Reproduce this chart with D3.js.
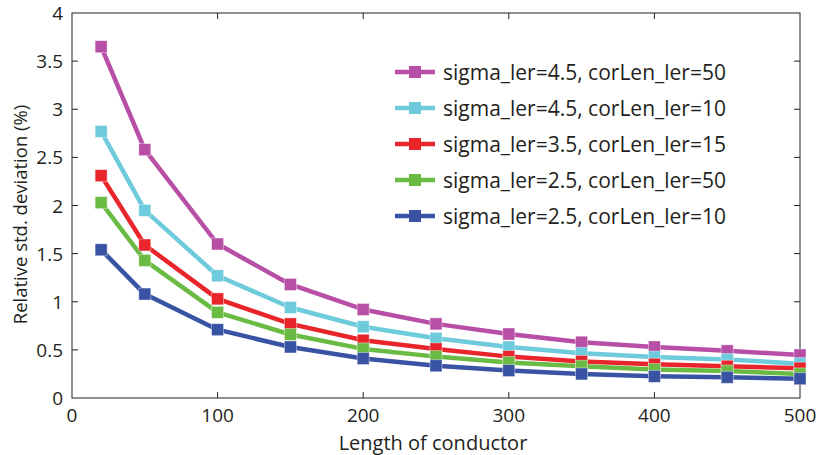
<!DOCTYPE html>
<html>
<head>
<meta charset="utf-8">
<script src="https://cdn.jsdelivr.net/npm/d3@7"></script>
<style>
  body { margin: 0; background: #fff; }
  text { font-family: "Open Sans", "Noto Sans", sans-serif; fill: #231f20; }
</style>
</head>
<body>
<div id="chart"></div>
<script>
// x positions (length of conductor)
const lengths = [20, 50, 100, 150, 200, 250, 300, 350, 400, 450, 500];

// series values
const sigma45cor50 = [3.65, 2.58, 1.60, 1.18, 0.92, 0.77, 0.665, 0.58, 0.53, 0.49, 0.447];
const sigma45cor10 = [2.77, 1.95, 1.27, 0.94, 0.74, 0.62, 0.53, 0.465, 0.425, 0.40, 0.357];
const sigma35cor15 = [2.31, 1.59, 1.03, 0.77, 0.60, 0.51, 0.43, 0.38, 0.35, 0.33, 0.31];
const sigma25cor50 = [2.03, 1.43, 0.89, 0.66, 0.51, 0.43, 0.37, 0.33, 0.295, 0.28, 0.25];
const sigma25cor10 = [1.54, 1.08, 0.71, 0.53, 0.41, 0.335, 0.285, 0.25, 0.225, 0.215, 0.20];

const seriesNames = [
  "sigma_ler=4.5, corLen_ler=50",
  "sigma_ler=4.5, corLen_ler=10",
  "sigma_ler=3.5, corLen_ler=15",
  "sigma_ler=2.5, corLen_ler=50",
  "sigma_ler=2.5, corLen_ler=10"
];
const seriesColors = ["#b84fa6", "#6dcbdc", "#e8252b", "#6abb44", "#3953a4"];
const seriesValues = [sigma45cor50, sigma45cor10, sigma35cor15, sigma25cor50, sigma25cor10];

const xTicks = [0, 100, 200, 300, 400, 500];
const yTicks = [0, 0.5, 1, 1.5, 2, 2.5, 3, 3.5, 4];

const width = 818, height = 455;
const margin = { top: 13, right: 18, bottom: 57, left: 72 };
const innerW = width - margin.left - margin.right;
const innerH = height - margin.top - margin.bottom;

const svg = d3.select("#chart").append("svg")
  .attr("width", width)
  .attr("height", height);

const g = svg.append("g")
  .attr("transform", `translate(${margin.left},${margin.top})`);

const x = d3.scaleLinear().domain([0, 500]).range([0, innerW]);
const y = d3.scaleLinear().domain([0, 4]).range([innerH, 0]);

// box with inward ticks on all four sides
g.append("rect")
  .attr("width", innerW).attr("height", innerH)
  .attr("fill", "none").attr("stroke", "#231f20").attr("stroke-width", 1);

const tickLen = 6;
g.selectAll(".xt").data(xTicks.slice(1, -1)).enter().append("g").each(function (d) {
  const s = d3.select(this);
  s.append("line").attr("x1", x(d)).attr("x2", x(d)).attr("y1", innerH).attr("y2", innerH - tickLen);
  s.append("line").attr("x1", x(d)).attr("x2", x(d)).attr("y1", 0).attr("y2", tickLen);
}).attr("stroke", "#231f20");

g.selectAll(".yt").data(yTicks.slice(1, -1)).enter().append("g").each(function (d) {
  const s = d3.select(this);
  s.append("line").attr("x1", 0).attr("x2", tickLen).attr("y1", y(d)).attr("y2", y(d));
  s.append("line").attr("x1", innerW).attr("x2", innerW - tickLen).attr("y1", y(d)).attr("y2", y(d));
}).attr("stroke", "#231f20");

// tick labels
g.selectAll(".xl").data(xTicks).enter().append("text")
  .attr("x", d => x(d))
  .attr("y", innerH + 24)
  .attr("text-anchor", "middle")
  .style("font-size", "19px")
  .text(d => d);

g.selectAll(".yl").data(yTicks).enter().append("text")
  .attr("x", -9)
  .attr("y", d => y(d) + 7)
  .attr("text-anchor", "end")
  .style("font-size", "19px")
  .text(d => d);

// axis labels
g.append("text")
  .attr("x", innerW / 2 - 3)
  .attr("y", innerH + 52)
  .attr("text-anchor", "middle")
  .style("font-size", "20px")
  .text("Length of conductor");

svg.append("text")
  .attr("transform", `translate(27,${margin.top + innerH / 2 + 9}) rotate(-90)`)
  .attr("text-anchor", "middle")
  .style("font-size", "18.5px")
  .text("Relative std. deviation (%)");

// lines and markers
const line = d3.line().x((d, i) => x(lengths[i])).y(d => y(d));

seriesValues.forEach((vals, k) => {
  g.append("path")
    .datum(vals)
    .attr("d", line)
    .attr("fill", "none")
    .attr("stroke", seriesColors[k])
    .attr("stroke-width", 4.5)
    .attr("stroke-linejoin", "round");
});

seriesValues.forEach((vals, k) => {
  g.selectAll(".m" + k).data(vals).enter().append("rect")
    .attr("x", (d, i) => x(lengths[i]) - 6)
    .attr("y", d => y(d) - 6)
    .attr("width", 12).attr("height", 12)
    .attr("fill", seriesColors[k])
    .attr("stroke", "#fff")
    .attr("stroke-opacity", 0.5)
    .attr("stroke-width", 0.8);
});

// legend
const legend = g.append("g").attr("transform", "translate(323,59)");
seriesNames.forEach((name, k) => {
  const row = legend.append("g").attr("transform", `translate(0,${k * 36})`);
  row.append("line").attr("x1", 0).attr("x2", 40).attr("y1", 0).attr("y2", 0)
    .attr("stroke", seriesColors[k]).attr("stroke-width", 4.5);
  row.append("rect").attr("x", 14).attr("y", -6).attr("width", 12).attr("height", 12)
    .attr("fill", seriesColors[k]);
  row.append("text").attr("x", 48).attr("y", 8)
    .style("font-size", "21px")
    .text(name);
});
</script>
</body>
</html>
